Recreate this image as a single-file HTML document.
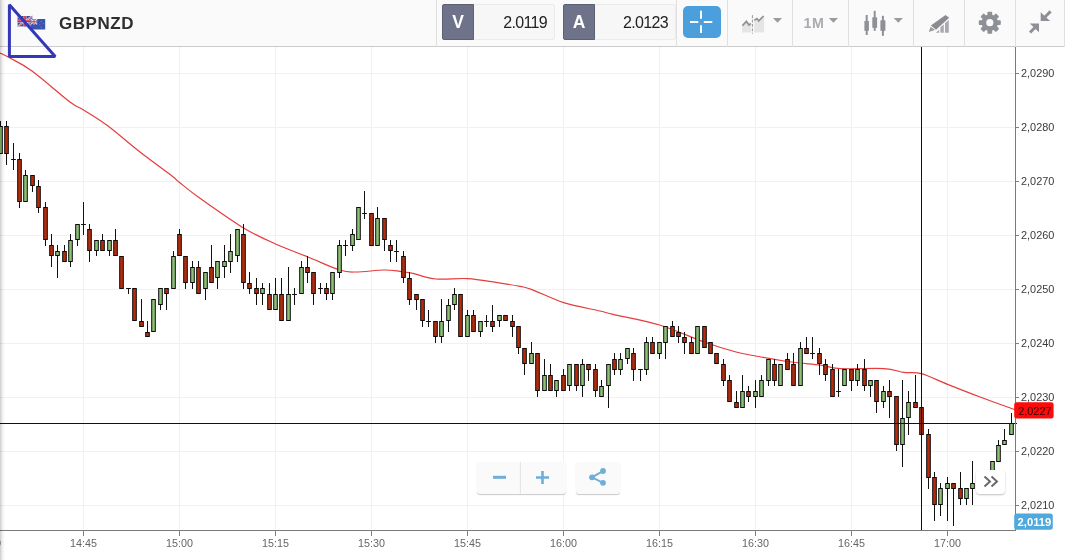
<!DOCTYPE html>
<html><head><meta charset="utf-8"><title>GBPNZD</title>
<style>
html,body{margin:0;padding:0;}
body{width:1065px;height:560px;overflow:hidden;background:#fff;position:relative;font-family:"Liberation Sans",sans-serif;}
#hdr{position:absolute;left:0;top:0;width:1065px;height:46px;background:#fafafa;border-bottom:1px solid #cbcbcb;}
.sep{position:absolute;top:0;width:1px;height:47px;background:#e0e0e0;}
#sym{position:absolute;left:59px;top:12.5px;font-size:17px;font-weight:bold;color:#2e2e2e;line-height:22px;letter-spacing:0.55px;}
.pb{position:absolute;top:4px;height:36px;box-sizing:border-box;}
.pl{background:#6e7389;border:1px solid #5d6175;border-radius:2px 0 0 2px;width:32px;color:#fff;font-weight:bold;font-size:17.5px;text-align:center;line-height:35px;}
.pv{background:#f7f7f7;border:1px solid #ebebeb;border-left:none;border-radius:0 3px 3px 0;width:81px;color:#222;font-size:16px;letter-spacing:-0.65px;text-align:right;line-height:35px;padding-right:7px;}
#cross{position:absolute;left:683px;top:6px;width:38px;height:32px;border-radius:5px;background:#4a9fdc;}
.t1m{position:absolute;left:803.5px;top:13px;font-size:14.3px;letter-spacing:0.6px;font-weight:bold;color:#a9abb0;line-height:20px;}
svg{position:absolute;left:0;top:0;}
.yl{font-family:"Liberation Sans",sans-serif;font-size:10.9px;fill:#3a3a3a;}
.xl{font-family:"Liberation Sans",sans-serif;font-size:10.75px;fill:#666;}
.btn{position:absolute;top:462px;height:32px;background:#fafafa;box-shadow:0 1px 1px rgba(0,0,0,0.22);border-radius:3px;}
#more{position:absolute;left:975.5px;top:470px;width:29.5px;height:24px;background:#fff;border-radius:4px;box-shadow:0 1px 2px rgba(0,0,0,0.25);}
#lshade{position:absolute;left:0;top:0;width:5px;height:560px;background:linear-gradient(to right,rgba(0,0,0,0.2),rgba(0,0,0,0.06) 50%,rgba(0,0,0,0));}
</style></head>
<body>
<svg width="1065" height="560" viewBox="0 0 1065 560">
<path d="M0 73.5H1015" stroke="#f1f1f1" stroke-width="1"/>
<path d="M0 127.5H1015" stroke="#f1f1f1" stroke-width="1"/>
<path d="M0 181.5H1015" stroke="#f1f1f1" stroke-width="1"/>
<path d="M0 235.5H1015" stroke="#f1f1f1" stroke-width="1"/>
<path d="M0 289.5H1015" stroke="#f1f1f1" stroke-width="1"/>
<path d="M0 343.5H1015" stroke="#f1f1f1" stroke-width="1"/>
<path d="M0 397.5H1015" stroke="#f1f1f1" stroke-width="1"/>
<path d="M0 451.5H1015" stroke="#f1f1f1" stroke-width="1"/>
<path d="M0 505.5H1015" stroke="#f1f1f1" stroke-width="1"/>
<path d="M83.5 47V530" stroke="#f1f1f1" stroke-width="1"/>
<path d="M179.5 47V530" stroke="#f1f1f1" stroke-width="1"/>
<path d="M275.5 47V530" stroke="#f1f1f1" stroke-width="1"/>
<path d="M371.5 47V530" stroke="#f1f1f1" stroke-width="1"/>
<path d="M467.5 47V530" stroke="#f1f1f1" stroke-width="1"/>
<path d="M563.5 47V530" stroke="#f1f1f1" stroke-width="1"/>
<path d="M659.5 47V530" stroke="#f1f1f1" stroke-width="1"/>
<path d="M755.5 47V530" stroke="#f1f1f1" stroke-width="1"/>
<path d="M851.5 47V530" stroke="#f1f1f1" stroke-width="1"/>
<path d="M947.5 47V530" stroke="#f1f1f1" stroke-width="1"/>
<path d="M0.0 53.0C1.7 53.8 4.7 55.0 10.0 58.0C15.3 61.0 22.0 63.7 32.0 71.0C42.0 78.3 61.4 95.5 70.0 102.0C78.6 108.5 77.3 106.0 83.6 110.0C89.9 114.0 98.6 119.0 108.0 126.0C117.4 133.0 129.3 143.7 140.0 152.0C150.7 160.3 165.4 170.9 172.0 176.0C178.6 181.1 174.6 178.6 179.3 182.3C184.0 186.0 189.3 190.7 200.0 198.3C210.7 205.9 231.0 220.4 243.6 228.0C256.2 235.6 264.9 239.2 275.6 244.0C286.3 248.8 297.3 252.7 308.0 257.0C318.7 261.3 331.6 267.5 339.6 270.0C347.6 272.5 348.6 272.0 356.0 272.0C363.4 272.0 376.7 270.1 384.0 270.0C391.3 269.9 395.2 270.8 400.0 271.4C404.8 272.0 407.0 272.1 413.0 273.4C419.0 274.7 426.9 278.1 436.0 279.0C445.1 279.9 457.6 278.0 467.6 278.6C477.6 279.2 487.3 281.1 496.0 282.4C504.7 283.7 514.0 285.2 520.0 286.4C526.0 287.6 524.7 286.9 532.0 289.6C539.3 292.3 552.3 299.0 563.6 302.6C574.9 306.2 591.8 309.0 600.0 311.0C608.2 313.0 603.1 312.1 613.0 314.4C622.9 316.7 644.4 320.4 659.6 325.0C674.8 329.6 691.3 337.5 704.0 342.0C716.7 346.5 727.4 349.7 736.0 352.0C744.6 354.3 747.6 354.5 755.6 356.0C763.6 357.5 776.6 359.8 784.0 361.0C791.4 362.2 794.0 362.3 800.0 363.0C806.0 363.7 813.3 364.1 820.0 365.0C826.7 365.9 829.3 368.0 840.0 368.6C850.7 369.2 873.3 368.0 884.0 368.6C894.7 369.2 897.8 371.6 904.0 372.4C910.2 373.2 914.1 371.6 921.4 373.6C928.7 375.6 937.8 380.5 947.6 384.4C957.4 388.3 969.1 392.9 980.0 397.0C990.9 401.1 1007.2 406.9 1013.0 409.0C1018.8 411.1 1014.7 409.2 1015.0 409.3" fill="none" stroke="#e53c3c" stroke-width="1.2" stroke-linejoin="round"/>
<path d="M0.5 121V154" stroke="#111" stroke-width="1" fill="none"/>
<rect x="-1.3" y="126.5" width="3.6" height="27" fill="#8cc176" stroke="#0a0a0a" stroke-width="1"/>
<path d="M6.5 121V165" stroke="#111" stroke-width="1" fill="none"/>
<rect x="4.7" y="126.5" width="3.6" height="27" fill="#b82c0c" stroke="#0a0a0a" stroke-width="1"/>
<path d="M13.5 143V170M11.1 159.5H15.9" stroke="#111" stroke-width="1" fill="none"/>
<path d="M19.5 153V208" stroke="#111" stroke-width="1" fill="none"/>
<rect x="17.7" y="159.5" width="3.6" height="42" fill="#b82c0c" stroke="#0a0a0a" stroke-width="1"/>
<path d="M25.5 170V202" stroke="#111" stroke-width="1" fill="none"/>
<rect x="23.7" y="175.5" width="3.6" height="26" fill="#8cc176" stroke="#0a0a0a" stroke-width="1"/>
<path d="M32.5 175V192" stroke="#111" stroke-width="1" fill="none"/>
<rect x="30.7" y="175.5" width="3.6" height="10" fill="#b82c0c" stroke="#0a0a0a" stroke-width="1"/>
<path d="M38.5 180V213" stroke="#111" stroke-width="1" fill="none"/>
<rect x="36.7" y="186.5" width="3.6" height="21" fill="#b82c0c" stroke="#0a0a0a" stroke-width="1"/>
<path d="M45.5 202V246" stroke="#111" stroke-width="1" fill="none"/>
<rect x="43.7" y="207.5" width="3.6" height="32" fill="#b82c0c" stroke="#0a0a0a" stroke-width="1"/>
<path d="M51.5 234V267" stroke="#111" stroke-width="1" fill="none"/>
<rect x="49.7" y="245.5" width="3.6" height="10" fill="#b82c0c" stroke="#0a0a0a" stroke-width="1"/>
<path d="M57.5 245V278" stroke="#111" stroke-width="1" fill="none"/>
<rect x="55.7" y="251.5" width="3.6" height="4" fill="#8cc176" stroke="#0a0a0a" stroke-width="1"/>
<path d="M64.5 245V262" stroke="#111" stroke-width="1" fill="none"/>
<rect x="62.7" y="251.5" width="3.6" height="10" fill="#b82c0c" stroke="#0a0a0a" stroke-width="1"/>
<path d="M70.5 234V267" stroke="#111" stroke-width="1" fill="none"/>
<rect x="68.7" y="240.5" width="3.6" height="21" fill="#8cc176" stroke="#0a0a0a" stroke-width="1"/>
<path d="M77.5 224V246" stroke="#111" stroke-width="1" fill="none"/>
<rect x="75.7" y="224.5" width="3.6" height="15" fill="#8cc176" stroke="#0a0a0a" stroke-width="1"/>
<path d="M83.5 202V235M81.1 224.5H85.9" stroke="#111" stroke-width="1" fill="none"/>
<path d="M89.5 224V262" stroke="#111" stroke-width="1" fill="none"/>
<rect x="87.7" y="229.5" width="3.6" height="21" fill="#b82c0c" stroke="#0a0a0a" stroke-width="1"/>
<path d="M96.5 240V256" stroke="#111" stroke-width="1" fill="none"/>
<rect x="94.7" y="240.5" width="3.6" height="10" fill="#8cc176" stroke="#0a0a0a" stroke-width="1"/>
<path d="M102.5 234V251" stroke="#111" stroke-width="1" fill="none"/>
<rect x="100.7" y="240.5" width="3.6" height="10" fill="#b82c0c" stroke="#0a0a0a" stroke-width="1"/>
<path d="M109.5 240V256" stroke="#111" stroke-width="1" fill="none"/>
<rect x="107.7" y="240.5" width="3.6" height="10" fill="#8cc176" stroke="#0a0a0a" stroke-width="1"/>
<path d="M115.5 229V256" stroke="#111" stroke-width="1" fill="none"/>
<rect x="113.7" y="240.5" width="3.6" height="15" fill="#b82c0c" stroke="#0a0a0a" stroke-width="1"/>
<rect x="119.7" y="256.5" width="3.6" height="32" fill="#b82c0c" stroke="#0a0a0a" stroke-width="1"/>
<path d="M128.5 288.0V294M126.1 288.5H130.9" stroke="#111" stroke-width="1" fill="none"/>
<rect x="132.7" y="288.5" width="3.6" height="32" fill="#b82c0c" stroke="#0a0a0a" stroke-width="1"/>
<path d="M141.5 299V327" stroke="#111" stroke-width="1" fill="none"/>
<rect x="139.7" y="321.5" width="3.6" height="5" fill="#b82c0c" stroke="#0a0a0a" stroke-width="1"/>
<path d="M147.5 321V337" stroke="#111" stroke-width="1" fill="none"/>
<rect x="145.7" y="332.5" width="3.6" height="4" fill="#b82c0c" stroke="#0a0a0a" stroke-width="1"/>
<rect x="151.7" y="299.5" width="3.6" height="32" fill="#8cc176" stroke="#0a0a0a" stroke-width="1"/>
<path d="M160.5 288V310" stroke="#111" stroke-width="1" fill="none"/>
<rect x="158.7" y="288.5" width="3.6" height="16" fill="#8cc176" stroke="#0a0a0a" stroke-width="1"/>
<path d="M166.5 288V310" stroke="#111" stroke-width="1" fill="none"/>
<rect x="164.7" y="288.5" width="3.6" height="5" fill="#b82c0c" stroke="#0a0a0a" stroke-width="1"/>
<path d="M173.5 251V289" stroke="#111" stroke-width="1" fill="none"/>
<rect x="171.7" y="256.5" width="3.6" height="32" fill="#8cc176" stroke="#0a0a0a" stroke-width="1"/>
<path d="M179.5 229V256" stroke="#111" stroke-width="1" fill="none"/>
<rect x="177.7" y="234.5" width="3.6" height="21" fill="#b82c0c" stroke="#0a0a0a" stroke-width="1"/>
<path d="M185.5 256V289" stroke="#111" stroke-width="1" fill="none"/>
<rect x="183.7" y="256.5" width="3.6" height="26" fill="#b82c0c" stroke="#0a0a0a" stroke-width="1"/>
<path d="M192.5 261V289" stroke="#111" stroke-width="1" fill="none"/>
<rect x="190.7" y="267.5" width="3.6" height="15" fill="#8cc176" stroke="#0a0a0a" stroke-width="1"/>
<path d="M198.5 261V294" stroke="#111" stroke-width="1" fill="none"/>
<rect x="196.7" y="267.5" width="3.6" height="26" fill="#b82c0c" stroke="#0a0a0a" stroke-width="1"/>
<path d="M205.5 272V300" stroke="#111" stroke-width="1" fill="none"/>
<rect x="203.7" y="272.5" width="3.6" height="16" fill="#8cc176" stroke="#0a0a0a" stroke-width="1"/>
<path d="M211.5 245V283" stroke="#111" stroke-width="1" fill="none"/>
<rect x="209.7" y="267.5" width="3.6" height="15" fill="#b82c0c" stroke="#0a0a0a" stroke-width="1"/>
<path d="M217.5 261V289" stroke="#111" stroke-width="1" fill="none"/>
<rect x="215.7" y="261.5" width="3.6" height="16" fill="#8cc176" stroke="#0a0a0a" stroke-width="1"/>
<path d="M224.5 245V278" stroke="#111" stroke-width="1" fill="none"/>
<rect x="222.7" y="261.5" width="3.6" height="5" fill="#8cc176" stroke="#0a0a0a" stroke-width="1"/>
<path d="M230.5 234V273" stroke="#111" stroke-width="1" fill="none"/>
<rect x="228.7" y="251.5" width="3.6" height="10" fill="#8cc176" stroke="#0a0a0a" stroke-width="1"/>
<path d="M237.5 229V262" stroke="#111" stroke-width="1" fill="none"/>
<rect x="235.7" y="229.5" width="3.6" height="26" fill="#8cc176" stroke="#0a0a0a" stroke-width="1"/>
<path d="M243.5 224V289" stroke="#111" stroke-width="1" fill="none"/>
<rect x="241.7" y="234.5" width="3.6" height="48" fill="#b82c0c" stroke="#0a0a0a" stroke-width="1"/>
<path d="M249.5 272V294" stroke="#111" stroke-width="1" fill="none"/>
<rect x="247.7" y="283.5" width="3.6" height="5" fill="#b82c0c" stroke="#0a0a0a" stroke-width="1"/>
<path d="M256.5 278V305" stroke="#111" stroke-width="1" fill="none"/>
<rect x="254.7" y="288.5" width="3.6" height="5" fill="#b82c0c" stroke="#0a0a0a" stroke-width="1"/>
<path d="M262.5 283V305" stroke="#111" stroke-width="1" fill="none"/>
<rect x="260.7" y="288.5" width="3.6" height="5" fill="#8cc176" stroke="#0a0a0a" stroke-width="1"/>
<path d="M269.5 283V310" stroke="#111" stroke-width="1" fill="none"/>
<rect x="267.7" y="294.5" width="3.6" height="15" fill="#b82c0c" stroke="#0a0a0a" stroke-width="1"/>
<path d="M275.5 278V310" stroke="#111" stroke-width="1" fill="none"/>
<rect x="273.7" y="294.5" width="3.6" height="15" fill="#8cc176" stroke="#0a0a0a" stroke-width="1"/>
<path d="M281.5 278V321" stroke="#111" stroke-width="1" fill="none"/>
<rect x="279.7" y="294.5" width="3.6" height="26" fill="#b82c0c" stroke="#0a0a0a" stroke-width="1"/>
<path d="M288.5 267V321" stroke="#111" stroke-width="1" fill="none"/>
<rect x="286.7" y="294.5" width="3.6" height="26" fill="#8cc176" stroke="#0a0a0a" stroke-width="1"/>
<path d="M294.5 288V305M292.1 294.5H296.9" stroke="#111" stroke-width="1" fill="none"/>
<path d="M301.5 261V294" stroke="#111" stroke-width="1" fill="none"/>
<rect x="299.7" y="267.5" width="3.6" height="26" fill="#8cc176" stroke="#0a0a0a" stroke-width="1"/>
<path d="M307.5 256V283" stroke="#111" stroke-width="1" fill="none"/>
<rect x="305.7" y="267.5" width="3.6" height="5" fill="#b82c0c" stroke="#0a0a0a" stroke-width="1"/>
<path d="M313.5 272V305" stroke="#111" stroke-width="1" fill="none"/>
<rect x="311.7" y="272.5" width="3.6" height="21" fill="#b82c0c" stroke="#0a0a0a" stroke-width="1"/>
<path d="M320.5 283V294M318.1 288.5H322.9" stroke="#111" stroke-width="1" fill="none"/>
<path d="M326.5 283V300" stroke="#111" stroke-width="1" fill="none"/>
<rect x="324.7" y="288.5" width="3.6" height="5" fill="#b82c0c" stroke="#0a0a0a" stroke-width="1"/>
<path d="M332.5 272V300" stroke="#111" stroke-width="1" fill="none"/>
<rect x="330.7" y="272.5" width="3.6" height="21" fill="#8cc176" stroke="#0a0a0a" stroke-width="1"/>
<path d="M339.5 240V278" stroke="#111" stroke-width="1" fill="none"/>
<rect x="337.7" y="245.5" width="3.6" height="27" fill="#8cc176" stroke="#0a0a0a" stroke-width="1"/>
<path d="M345.5 240V256M343.1 245.5H347.9" stroke="#111" stroke-width="1" fill="none"/>
<path d="M352.5 229V251" stroke="#111" stroke-width="1" fill="none"/>
<rect x="350.7" y="234.5" width="3.6" height="11" fill="#8cc176" stroke="#0a0a0a" stroke-width="1"/>
<rect x="356.7" y="207.5" width="3.6" height="32" fill="#8cc176" stroke="#0a0a0a" stroke-width="1"/>
<path d="M364.5 191V219M362.1 213.5H366.9" stroke="#111" stroke-width="1" fill="none"/>
<rect x="369.7" y="213.5" width="3.6" height="32" fill="#b82c0c" stroke="#0a0a0a" stroke-width="1"/>
<path d="M377.5 207V246" stroke="#111" stroke-width="1" fill="none"/>
<rect x="375.7" y="218.5" width="3.6" height="27" fill="#8cc176" stroke="#0a0a0a" stroke-width="1"/>
<path d="M384.5 218V251" stroke="#111" stroke-width="1" fill="none"/>
<rect x="382.7" y="218.5" width="3.6" height="21" fill="#b82c0c" stroke="#0a0a0a" stroke-width="1"/>
<path d="M390.5 240V262" stroke="#111" stroke-width="1" fill="none"/>
<rect x="388.7" y="245.5" width="3.6" height="5" fill="#b82c0c" stroke="#0a0a0a" stroke-width="1"/>
<path d="M396.5 240V262M394.1 251.5H398.9" stroke="#111" stroke-width="1" fill="none"/>
<path d="M403.5 251V283" stroke="#111" stroke-width="1" fill="none"/>
<rect x="401.7" y="256.5" width="3.6" height="21" fill="#b82c0c" stroke="#0a0a0a" stroke-width="1"/>
<path d="M409.5 272V305" stroke="#111" stroke-width="1" fill="none"/>
<rect x="407.7" y="278.5" width="3.6" height="21" fill="#b82c0c" stroke="#0a0a0a" stroke-width="1"/>
<path d="M416.5 294V310" stroke="#111" stroke-width="1" fill="none"/>
<rect x="414.7" y="294.5" width="3.6" height="5" fill="#b82c0c" stroke="#0a0a0a" stroke-width="1"/>
<path d="M422.5 299V327" stroke="#111" stroke-width="1" fill="none"/>
<rect x="420.7" y="299.5" width="3.6" height="21" fill="#b82c0c" stroke="#0a0a0a" stroke-width="1"/>
<path d="M428.5 310V327M426.1 321.5H430.9" stroke="#111" stroke-width="1" fill="none"/>
<path d="M435.5 321V343" stroke="#111" stroke-width="1" fill="none"/>
<rect x="433.7" y="321.5" width="3.6" height="15" fill="#b82c0c" stroke="#0a0a0a" stroke-width="1"/>
<path d="M441.5 299V343" stroke="#111" stroke-width="1" fill="none"/>
<rect x="439.7" y="321.5" width="3.6" height="15" fill="#8cc176" stroke="#0a0a0a" stroke-width="1"/>
<path d="M448.5 299V332" stroke="#111" stroke-width="1" fill="none"/>
<rect x="446.7" y="305.5" width="3.6" height="15" fill="#8cc176" stroke="#0a0a0a" stroke-width="1"/>
<path d="M454.5 288V310" stroke="#111" stroke-width="1" fill="none"/>
<rect x="452.7" y="294.5" width="3.6" height="10" fill="#8cc176" stroke="#0a0a0a" stroke-width="1"/>
<rect x="458.7" y="294.5" width="3.6" height="42" fill="#b82c0c" stroke="#0a0a0a" stroke-width="1"/>
<path d="M467.5 310V337" stroke="#111" stroke-width="1" fill="none"/>
<rect x="465.7" y="315.5" width="3.6" height="21" fill="#8cc176" stroke="#0a0a0a" stroke-width="1"/>
<path d="M473.5 310V332" stroke="#111" stroke-width="1" fill="none"/>
<rect x="471.7" y="315.5" width="3.6" height="16" fill="#b82c0c" stroke="#0a0a0a" stroke-width="1"/>
<path d="M480.5 321V337" stroke="#111" stroke-width="1" fill="none"/>
<rect x="478.7" y="321.5" width="3.6" height="10" fill="#8cc176" stroke="#0a0a0a" stroke-width="1"/>
<path d="M486.5 315V327M484.1 321.5H488.9" stroke="#111" stroke-width="1" fill="none"/>
<path d="M492.5 305V332" stroke="#111" stroke-width="1" fill="none"/>
<rect x="490.7" y="321.5" width="3.6" height="5" fill="#b82c0c" stroke="#0a0a0a" stroke-width="1"/>
<path d="M499.5 315V327" stroke="#111" stroke-width="1" fill="none"/>
<rect x="497.7" y="315.5" width="3.6" height="5" fill="#8cc176" stroke="#0a0a0a" stroke-width="1"/>
<rect x="503.7" y="315.5" width="3.6" height="5" fill="#b82c0c" stroke="#0a0a0a" stroke-width="1"/>
<path d="M512.5 315V337" stroke="#111" stroke-width="1" fill="none"/>
<rect x="510.7" y="321.5" width="3.6" height="5" fill="#b82c0c" stroke="#0a0a0a" stroke-width="1"/>
<path d="M518.5 326V354" stroke="#111" stroke-width="1" fill="none"/>
<rect x="516.7" y="326.5" width="3.6" height="21" fill="#b82c0c" stroke="#0a0a0a" stroke-width="1"/>
<path d="M524.5 348V375" stroke="#111" stroke-width="1" fill="none"/>
<rect x="522.7" y="348.5" width="3.6" height="15" fill="#b82c0c" stroke="#0a0a0a" stroke-width="1"/>
<path d="M531.5 342V364" stroke="#111" stroke-width="1" fill="none"/>
<rect x="529.7" y="353.5" width="3.6" height="10" fill="#8cc176" stroke="#0a0a0a" stroke-width="1"/>
<path d="M537.5 353V397" stroke="#111" stroke-width="1" fill="none"/>
<rect x="535.7" y="353.5" width="3.6" height="37" fill="#b82c0c" stroke="#0a0a0a" stroke-width="1"/>
<path d="M544.5 359V391" stroke="#111" stroke-width="1" fill="none"/>
<rect x="542.7" y="375.5" width="3.6" height="15" fill="#8cc176" stroke="#0a0a0a" stroke-width="1"/>
<path d="M550.5 364V391" stroke="#111" stroke-width="1" fill="none"/>
<rect x="548.7" y="375.5" width="3.6" height="15" fill="#b82c0c" stroke="#0a0a0a" stroke-width="1"/>
<path d="M556.5 380V397" stroke="#111" stroke-width="1" fill="none"/>
<rect x="554.7" y="380.5" width="3.6" height="10" fill="#8cc176" stroke="#0a0a0a" stroke-width="1"/>
<path d="M563.5 369V391" stroke="#111" stroke-width="1" fill="none"/>
<rect x="561.7" y="375.5" width="3.6" height="15" fill="#b82c0c" stroke="#0a0a0a" stroke-width="1"/>
<path d="M569.5 364V391" stroke="#111" stroke-width="1" fill="none"/>
<rect x="567.7" y="364.5" width="3.6" height="21" fill="#8cc176" stroke="#0a0a0a" stroke-width="1"/>
<path d="M576.5 364V391" stroke="#111" stroke-width="1" fill="none"/>
<rect x="574.7" y="364.5" width="3.6" height="21" fill="#b82c0c" stroke="#0a0a0a" stroke-width="1"/>
<path d="M582.5 359V397" stroke="#111" stroke-width="1" fill="none"/>
<rect x="580.7" y="364.5" width="3.6" height="21" fill="#8cc176" stroke="#0a0a0a" stroke-width="1"/>
<path d="M588.5 364V381" stroke="#111" stroke-width="1" fill="none"/>
<rect x="586.7" y="364.5" width="3.6" height="5" fill="#b82c0c" stroke="#0a0a0a" stroke-width="1"/>
<path d="M595.5 364V397" stroke="#111" stroke-width="1" fill="none"/>
<rect x="593.7" y="369.5" width="3.6" height="21" fill="#b82c0c" stroke="#0a0a0a" stroke-width="1"/>
<path d="M601.5 380V397" stroke="#111" stroke-width="1" fill="none"/>
<rect x="599.7" y="386.5" width="3.6" height="10" fill="#8cc176" stroke="#0a0a0a" stroke-width="1"/>
<path d="M608.5 364V408" stroke="#111" stroke-width="1" fill="none"/>
<rect x="606.7" y="364.5" width="3.6" height="21" fill="#8cc176" stroke="#0a0a0a" stroke-width="1"/>
<path d="M614.5 353V375" stroke="#111" stroke-width="1" fill="none"/>
<rect x="612.7" y="359.5" width="3.6" height="10" fill="#b82c0c" stroke="#0a0a0a" stroke-width="1"/>
<path d="M620.5 353V375" stroke="#111" stroke-width="1" fill="none"/>
<rect x="618.7" y="359.5" width="3.6" height="10" fill="#8cc176" stroke="#0a0a0a" stroke-width="1"/>
<path d="M627.5 348V364" stroke="#111" stroke-width="1" fill="none"/>
<rect x="625.7" y="348.5" width="3.6" height="10" fill="#8cc176" stroke="#0a0a0a" stroke-width="1"/>
<path d="M633.5 348V381" stroke="#111" stroke-width="1" fill="none"/>
<rect x="631.7" y="353.5" width="3.6" height="16" fill="#b82c0c" stroke="#0a0a0a" stroke-width="1"/>
<path d="M640.5 369.0V381M638.1 369.5H642.9" stroke="#111" stroke-width="1" fill="none"/>
<path d="M646.5 337V375" stroke="#111" stroke-width="1" fill="none"/>
<rect x="644.7" y="342.5" width="3.6" height="27" fill="#8cc176" stroke="#0a0a0a" stroke-width="1"/>
<path d="M652.5 337V354" stroke="#111" stroke-width="1" fill="none"/>
<rect x="650.7" y="342.5" width="3.6" height="11" fill="#b82c0c" stroke="#0a0a0a" stroke-width="1"/>
<path d="M659.5 342V359" stroke="#111" stroke-width="1" fill="none"/>
<rect x="657.7" y="342.5" width="3.6" height="11" fill="#8cc176" stroke="#0a0a0a" stroke-width="1"/>
<path d="M665.5 326V359" stroke="#111" stroke-width="1" fill="none"/>
<rect x="663.7" y="326.5" width="3.6" height="16" fill="#8cc176" stroke="#0a0a0a" stroke-width="1"/>
<path d="M672.5 321V337" stroke="#111" stroke-width="1" fill="none"/>
<rect x="670.7" y="326.5" width="3.6" height="10" fill="#b82c0c" stroke="#0a0a0a" stroke-width="1"/>
<path d="M678.5 326V343" stroke="#111" stroke-width="1" fill="none"/>
<rect x="676.7" y="332.5" width="3.6" height="4" fill="#b82c0c" stroke="#0a0a0a" stroke-width="1"/>
<path d="M684.5 332V354" stroke="#111" stroke-width="1" fill="none"/>
<rect x="682.7" y="337.5" width="3.6" height="5" fill="#b82c0c" stroke="#0a0a0a" stroke-width="1"/>
<path d="M691.5 337V354" stroke="#111" stroke-width="1" fill="none"/>
<rect x="689.7" y="342.5" width="3.6" height="11" fill="#b82c0c" stroke="#0a0a0a" stroke-width="1"/>
<rect x="695.7" y="326.5" width="3.6" height="27" fill="#8cc176" stroke="#0a0a0a" stroke-width="1"/>
<rect x="702.7" y="326.5" width="3.6" height="21" fill="#b82c0c" stroke="#0a0a0a" stroke-width="1"/>
<rect x="708.7" y="342.5" width="3.6" height="11" fill="#b82c0c" stroke="#0a0a0a" stroke-width="1"/>
<rect x="714.7" y="353.5" width="3.6" height="10" fill="#b82c0c" stroke="#0a0a0a" stroke-width="1"/>
<path d="M723.5 359V386" stroke="#111" stroke-width="1" fill="none"/>
<rect x="721.7" y="364.5" width="3.6" height="16" fill="#b82c0c" stroke="#0a0a0a" stroke-width="1"/>
<path d="M729.5 375V402" stroke="#111" stroke-width="1" fill="none"/>
<rect x="727.7" y="380.5" width="3.6" height="21" fill="#b82c0c" stroke="#0a0a0a" stroke-width="1"/>
<path d="M736.5 391V408" stroke="#111" stroke-width="1" fill="none"/>
<rect x="734.7" y="402.5" width="3.6" height="5" fill="#b82c0c" stroke="#0a0a0a" stroke-width="1"/>
<path d="M742.5 375V408" stroke="#111" stroke-width="1" fill="none"/>
<rect x="740.7" y="391.5" width="3.6" height="16" fill="#8cc176" stroke="#0a0a0a" stroke-width="1"/>
<path d="M748.5 386V402" stroke="#111" stroke-width="1" fill="none"/>
<rect x="746.7" y="391.5" width="3.6" height="5" fill="#b82c0c" stroke="#0a0a0a" stroke-width="1"/>
<path d="M755.5 380V408" stroke="#111" stroke-width="1" fill="none"/>
<rect x="753.7" y="391.5" width="3.6" height="5" fill="#8cc176" stroke="#0a0a0a" stroke-width="1"/>
<path d="M761.5 375V397" stroke="#111" stroke-width="1" fill="none"/>
<rect x="759.7" y="380.5" width="3.6" height="16" fill="#8cc176" stroke="#0a0a0a" stroke-width="1"/>
<path d="M768.5 359V386" stroke="#111" stroke-width="1" fill="none"/>
<rect x="766.7" y="359.5" width="3.6" height="21" fill="#8cc176" stroke="#0a0a0a" stroke-width="1"/>
<path d="M774.5 359V386" stroke="#111" stroke-width="1" fill="none"/>
<rect x="772.7" y="364.5" width="3.6" height="16" fill="#b82c0c" stroke="#0a0a0a" stroke-width="1"/>
<rect x="778.7" y="364.5" width="3.6" height="21" fill="#8cc176" stroke="#0a0a0a" stroke-width="1"/>
<path d="M787.5 353V370" stroke="#111" stroke-width="1" fill="none"/>
<rect x="785.7" y="359.5" width="3.6" height="10" fill="#b82c0c" stroke="#0a0a0a" stroke-width="1"/>
<path d="M793.5 353V386" stroke="#111" stroke-width="1" fill="none"/>
<rect x="791.7" y="364.5" width="3.6" height="21" fill="#b82c0c" stroke="#0a0a0a" stroke-width="1"/>
<path d="M800.5 342V386" stroke="#111" stroke-width="1" fill="none"/>
<rect x="798.7" y="348.5" width="3.6" height="37" fill="#8cc176" stroke="#0a0a0a" stroke-width="1"/>
<path d="M806.5 337V354" stroke="#111" stroke-width="1" fill="none"/>
<rect x="804.7" y="348.5" width="3.6" height="5" fill="#b82c0c" stroke="#0a0a0a" stroke-width="1"/>
<path d="M812.5 337V359M810.1 353.5H814.9" stroke="#111" stroke-width="1" fill="none"/>
<path d="M819.5 348V375" stroke="#111" stroke-width="1" fill="none"/>
<rect x="817.7" y="353.5" width="3.6" height="10" fill="#b82c0c" stroke="#0a0a0a" stroke-width="1"/>
<path d="M825.5 359V381" stroke="#111" stroke-width="1" fill="none"/>
<rect x="823.7" y="364.5" width="3.6" height="10" fill="#b82c0c" stroke="#0a0a0a" stroke-width="1"/>
<path d="M832.5 364V397" stroke="#111" stroke-width="1" fill="none"/>
<rect x="830.7" y="369.5" width="3.6" height="27" fill="#b82c0c" stroke="#0a0a0a" stroke-width="1"/>
<path d="M838.5 369V397M836.1 391.5H840.9" stroke="#111" stroke-width="1" fill="none"/>
<rect x="842.7" y="369.5" width="3.6" height="16" fill="#8cc176" stroke="#0a0a0a" stroke-width="1"/>
<path d="M851.5 369V391" stroke="#111" stroke-width="1" fill="none"/>
<rect x="849.7" y="369.5" width="3.6" height="11" fill="#b82c0c" stroke="#0a0a0a" stroke-width="1"/>
<path d="M857.5 364V386" stroke="#111" stroke-width="1" fill="none"/>
<rect x="855.7" y="369.5" width="3.6" height="11" fill="#8cc176" stroke="#0a0a0a" stroke-width="1"/>
<path d="M864.5 359V391" stroke="#111" stroke-width="1" fill="none"/>
<rect x="862.7" y="369.5" width="3.6" height="16" fill="#b82c0c" stroke="#0a0a0a" stroke-width="1"/>
<path d="M870.5 380V397" stroke="#111" stroke-width="1" fill="none"/>
<rect x="868.7" y="380.5" width="3.6" height="5" fill="#8cc176" stroke="#0a0a0a" stroke-width="1"/>
<path d="M876.5 380V413" stroke="#111" stroke-width="1" fill="none"/>
<rect x="874.7" y="380.5" width="3.6" height="21" fill="#b82c0c" stroke="#0a0a0a" stroke-width="1"/>
<path d="M883.5 386V408" stroke="#111" stroke-width="1" fill="none"/>
<rect x="881.7" y="391.5" width="3.6" height="10" fill="#8cc176" stroke="#0a0a0a" stroke-width="1"/>
<path d="M889.5 380V418" stroke="#111" stroke-width="1" fill="none"/>
<rect x="887.7" y="391.5" width="3.6" height="5" fill="#b82c0c" stroke="#0a0a0a" stroke-width="1"/>
<path d="M896.5 396V451" stroke="#111" stroke-width="1" fill="none"/>
<rect x="894.7" y="396.5" width="3.6" height="48" fill="#b82c0c" stroke="#0a0a0a" stroke-width="1"/>
<path d="M902.5 380V467" stroke="#111" stroke-width="1" fill="none"/>
<rect x="900.7" y="418.5" width="3.6" height="26" fill="#8cc176" stroke="#0a0a0a" stroke-width="1"/>
<path d="M908.5 391V435" stroke="#111" stroke-width="1" fill="none"/>
<rect x="906.7" y="402.5" width="3.6" height="15" fill="#8cc176" stroke="#0a0a0a" stroke-width="1"/>
<path d="M915.5 375V408" stroke="#111" stroke-width="1" fill="none"/>
<rect x="913.7" y="402.5" width="3.6" height="5" fill="#b82c0c" stroke="#0a0a0a" stroke-width="1"/>
<rect x="919.7" y="407.5" width="3.6" height="27" fill="#b82c0c" stroke="#0a0a0a" stroke-width="1"/>
<path d="M928.5 429V489" stroke="#111" stroke-width="1" fill="none"/>
<rect x="926.7" y="434.5" width="3.6" height="43" fill="#b82c0c" stroke="#0a0a0a" stroke-width="1"/>
<path d="M934.5 472V521" stroke="#111" stroke-width="1" fill="none"/>
<rect x="932.7" y="477.5" width="3.6" height="27" fill="#b82c0c" stroke="#0a0a0a" stroke-width="1"/>
<path d="M940.5 483V516" stroke="#111" stroke-width="1" fill="none"/>
<rect x="938.7" y="488.5" width="3.6" height="16" fill="#8cc176" stroke="#0a0a0a" stroke-width="1"/>
<path d="M947.5 477V521" stroke="#111" stroke-width="1" fill="none"/>
<rect x="945.7" y="483.5" width="3.6" height="5" fill="#8cc176" stroke="#0a0a0a" stroke-width="1"/>
<path d="M953.5 483V526" stroke="#111" stroke-width="1" fill="none"/>
<rect x="951.7" y="483.5" width="3.6" height="5" fill="#b82c0c" stroke="#0a0a0a" stroke-width="1"/>
<path d="M960.5 472V505" stroke="#111" stroke-width="1" fill="none"/>
<rect x="958.7" y="488.5" width="3.6" height="10" fill="#b82c0c" stroke="#0a0a0a" stroke-width="1"/>
<path d="M966.5 488V505" stroke="#111" stroke-width="1" fill="none"/>
<rect x="964.7" y="488.5" width="3.6" height="10" fill="#8cc176" stroke="#0a0a0a" stroke-width="1"/>
<path d="M972.5 461V505" stroke="#111" stroke-width="1" fill="none"/>
<rect x="970.7" y="483.5" width="3.6" height="5" fill="#8cc176" stroke="#0a0a0a" stroke-width="1"/>
<rect x="977.7" y="477.5" width="3.6" height="5" fill="#8cc176" stroke="#0a0a0a" stroke-width="1"/>
<path d="M985.5 477V489" stroke="#111" stroke-width="1" fill="none"/>
<rect x="983.7" y="477.5" width="3.6" height="5" fill="#b82c0c" stroke="#0a0a0a" stroke-width="1"/>
<rect x="990.7" y="461.5" width="3.6" height="21" fill="#8cc176" stroke="#0a0a0a" stroke-width="1"/>
<path d="M998.5 440V462" stroke="#111" stroke-width="1" fill="none"/>
<rect x="996.7" y="445.5" width="3.6" height="16" fill="#8cc176" stroke="#0a0a0a" stroke-width="1"/>
<path d="M1004.5 429V445" stroke="#111" stroke-width="1" fill="none"/>
<rect x="1002.7" y="440.5" width="3.6" height="4" fill="#8cc176" stroke="#0a0a0a" stroke-width="1"/>
<path d="M1011.5 413V435" stroke="#111" stroke-width="1" fill="none"/>
<rect x="1009.7" y="423.5" width="3.6" height="11" fill="#8cc176" stroke="#0a0a0a" stroke-width="1"/>
<path d="M921.5 47V530" stroke="#111" stroke-width="1"/>
<path d="M0 423.5H1017" stroke="#111" stroke-width="1"/>
<path d="M0 530.5H1016" stroke="#7a7a7a" stroke-width="1"/>
<path d="M1015.5 47V531" stroke="#7a7a7a" stroke-width="1"/>
<path d="M1015 73.5H1019" stroke="#808080" stroke-width="1"/>
<text x="1021" y="77.1" class="yl">2,0290</text>
<path d="M1015 127.5H1019" stroke="#808080" stroke-width="1"/>
<text x="1021" y="131.1" class="yl">2,0280</text>
<path d="M1015 181.5H1019" stroke="#808080" stroke-width="1"/>
<text x="1021" y="185.1" class="yl">2,0270</text>
<path d="M1015 235.5H1019" stroke="#808080" stroke-width="1"/>
<text x="1021" y="239.1" class="yl">2,0260</text>
<path d="M1015 289.5H1019" stroke="#808080" stroke-width="1"/>
<text x="1021" y="293.1" class="yl">2,0250</text>
<path d="M1015 343.5H1019" stroke="#808080" stroke-width="1"/>
<text x="1021" y="347.1" class="yl">2,0240</text>
<path d="M1015 397.5H1019" stroke="#808080" stroke-width="1"/>
<text x="1021" y="401.1" class="yl">2,0230</text>
<path d="M1015 451.5H1019" stroke="#808080" stroke-width="1"/>
<text x="1021" y="455.1" class="yl">2,0220</text>
<path d="M1015 505.5H1019" stroke="#808080" stroke-width="1"/>
<text x="1021" y="509.1" class="yl">2,0210</text>
<text x="-12.5" y="547.3" text-anchor="middle" class="xl">14:30</text>
<path d="M83.5 530V536" stroke="#808080" stroke-width="1"/>
<text x="83.5" y="547.3" text-anchor="middle" class="xl">14:45</text>
<path d="M179.5 530V536" stroke="#808080" stroke-width="1"/>
<text x="179.5" y="547.3" text-anchor="middle" class="xl">15:00</text>
<path d="M275.5 530V536" stroke="#808080" stroke-width="1"/>
<text x="275.5" y="547.3" text-anchor="middle" class="xl">15:15</text>
<path d="M371.5 530V536" stroke="#808080" stroke-width="1"/>
<text x="371.5" y="547.3" text-anchor="middle" class="xl">15:30</text>
<path d="M467.5 530V536" stroke="#808080" stroke-width="1"/>
<text x="467.5" y="547.3" text-anchor="middle" class="xl">15:45</text>
<path d="M563.5 530V536" stroke="#808080" stroke-width="1"/>
<text x="563.5" y="547.3" text-anchor="middle" class="xl">16:00</text>
<path d="M659.5 530V536" stroke="#808080" stroke-width="1"/>
<text x="659.5" y="547.3" text-anchor="middle" class="xl">16:15</text>
<path d="M755.5 530V536" stroke="#808080" stroke-width="1"/>
<text x="755.5" y="547.3" text-anchor="middle" class="xl">16:30</text>
<path d="M851.5 530V536" stroke="#808080" stroke-width="1"/>
<text x="851.5" y="547.3" text-anchor="middle" class="xl">16:45</text>
<path d="M947.5 530V536" stroke="#808080" stroke-width="1"/>
<text x="947.5" y="547.3" text-anchor="middle" class="xl">17:00</text>
<rect x="1014.2" y="402.3" width="39.4" height="16.3" rx="2.5" fill="#ff0a0a"/>
<text x="1018.2" y="415" style="font-family:'Liberation Sans',sans-serif;font-size:10.9px;fill:#3a0000;">2,0227</text>
<rect x="1014.2" y="513.4" width="38.6" height="16.3" rx="2.5" fill="#4fa9dd"/>
<text x="1017.6" y="526.1" style="font-family:'Liberation Sans',sans-serif;font-size:11.2px;font-weight:bold;fill:#fff;">2,0119</text>
</svg>
<div id="hdr">
 <div class="sep" style="left:436px"></div>
 <div class="sep" style="left:676px"></div>
 <div class="sep" style="left:727px"></div>
 <div class="sep" style="left:792px"></div>
 <div class="sep" style="left:848px"></div>
 <div class="sep" style="left:913px"></div>
 <div class="sep" style="left:964px"></div>
 <div class="sep" style="left:1015px"></div>
 <div class="sep" style="left:1064px"></div>
 <div id="sym">GBPNZD</div>
 <div class="pb pl" style="left:442px">V</div><div class="pb pv" style="left:474px">2.0119</div>
 <div class="pb pl" style="left:563px">A</div><div class="pb pv" style="left:595px">2.0123</div>
 <div id="cross"></div>
 <div class="t1m">1M</div>
</div>
<svg width="1065" height="60" viewBox="0 0 1065 60">
 <!-- flags -->
 <g>
  <rect x="17.6" y="16" width="14.7" height="10.4" fill="#3f4c9e"/>
  <path d="M17.6 16L32.3 26.4M32.3 16L17.6 26.4" stroke="#e8dfe8" stroke-width="1.6"/>
  <path d="M17.6 16L32.3 26.4M32.3 16L17.6 26.4" stroke="#d63a4a" stroke-width="0.7"/>
  <path d="M25 16V26.4M17.6 21.2H32.3" stroke="#ece4ec" stroke-width="2.8"/>
  <path d="M25 16V26.4M17.6 21.2H32.3" stroke="#d4303f" stroke-width="1.7"/>
  <rect x="30.7" y="19" width="14.5" height="10.5" fill="#3654b0"/>
  <path d="M30.7 19L37.2 24.4M37.2 19L30.7 24.4" stroke="#e6e0ee" stroke-width="1.1"/>
  <path d="M34 19V24.4M30.7 21.7H37.2" stroke="#ece4ec" stroke-width="1.7"/>
  <path d="M34 19V24.4M30.7 21.7H37.2" stroke="#d4303f" stroke-width="0.9"/>
  <circle cx="41.2" cy="21.4" r="0.7" fill="#d8506a"/><circle cx="43.2" cy="23.6" r="0.7" fill="#d8506a"/><circle cx="39.8" cy="24.6" r="0.7" fill="#d8506a"/><circle cx="41.3" cy="27.3" r="0.7" fill="#d8506a"/>
 </g>
 <!-- blue triangle drawing -->
 <path d="M9.4 4.8V56.4H55.2Z" fill="none" stroke="#3338b8" stroke-width="3" stroke-linejoin="bevel"/>
 <!-- crosshair icon -->
 <path d="M701 10.8V18.8M701 25.2V33M690 22H698.3M703.8 22H712.3" stroke="#fff" stroke-width="2" fill="none"/>
 <!-- compare icon -->
 <path d="M742.1 26L746.4 21.4L749 25.1L751 23.5V32.6H742.1Z" fill="#e5e5e5"/>
 <path d="M754.1 20.5L757 18.6L758.7 20.9L764.1 15.6V32.6H754.1Z" fill="#e5e5e5"/>
 <path d="M742.4 25.7L746.4 21.4L749 25.1L750.9 23.5" fill="none" stroke="#8e9096" stroke-width="1.7"/>
 <path d="M754.4 20.3L757 18.6L758.7 20.9L763.6 16" fill="none" stroke="#8e9096" stroke-width="1.7"/>
 <path d="M752.4 15.1V33.7" stroke="#999" stroke-width="1" stroke-dasharray="3 1.4"/>
 <path d="M773 18H782L777.5 22.8Z" fill="#999ba1"/>
 <path d="M828.8 18H838L833.4 22.8Z" fill="#999ba1"/>
 <path d="M893.7 18H903L898.3 22.8Z" fill="#999ba1"/>
 <!-- candle icon -->
 <g fill="#8e9096" stroke="none">
  <rect x="864.4" y="21" width="4.5" height="9.8"/><rect x="865.7" y="15" width="2" height="20"/>
  <rect x="872.3" y="17.3" width="4.8" height="10.5"/><rect x="873.7" y="10.8" width="2" height="20"/>
  <rect x="880.4" y="20.3" width="5" height="10.5"/><rect x="881.9" y="15.8" width="2" height="20"/>
 </g>
 <!-- pencil icon -->
 <g>
  <path d="M940.4 32.7V27.2L943.8 24.4V32.7Z M945 32.7V23.3L948.8 20.1V32.7Z M935.8 32.7L939.2 29.8V32.7Z" fill="#a9aaad"/>
  <path d="M930.9 25.6L945.5 14.9L949.2 17.7L936 29.7Z" fill="#8b8c91"/>
  <path d="M930.6 26.8L935 30L928.8 31.9Z" fill="#9a9b9f"/>
 </g>
 <!-- gear -->
 <g transform="translate(989.8,22.7)" fill="#8e9096">
  <circle r="8.2"/>
  <g id="teeth">
   <rect x="-2.4" y="-11" width="4.8" height="22" rx="1"/>
   <rect x="-2.4" y="-11" width="4.8" height="22" rx="1" transform="rotate(45)"/>
   <rect x="-2.4" y="-11" width="4.8" height="22" rx="1" transform="rotate(90)"/>
   <rect x="-2.4" y="-11" width="4.8" height="22" rx="1" transform="rotate(135)"/>
  </g>
  <circle r="3.6" fill="#fafafa"/>
 </g>
 <!-- collapse arrows -->
 <g fill="#8e9096" stroke="#8e9096">
  <path d="M1050.6 11.4L1044.5 17.5" stroke-width="2.9" fill="none"/>
  <path d="M1040.7 12.2V21.1H1050.1Z" stroke="none"/>
  <path d="M1030 32.6L1035.5 27" stroke-width="2.9" fill="none"/>
  <path d="M1029.8 23.4H1039V32.2Z" stroke="none"/>
 </g>
</svg>
<div class="btn" style="left:477px;width:88.5px;"></div>
<div class="btn" style="left:576px;width:43.5px;"></div>
<div id="more"></div>
<svg width="1065" height="560" viewBox="0 0 1065 560" style="pointer-events:none">
 <path d="M520.4 462V494" stroke="#e2e2e2" stroke-width="1"/>
 <path d="M493 477.3H506" stroke="#6eaed8" stroke-width="3"/>
 <path d="M536 477.5H549M542.5 471V484" stroke="#6eaed8" stroke-width="2.6"/>
 <path d="M603 471L592 477.3L603 482.8" fill="none" stroke="#6eaed8" stroke-width="2"/>
 <circle cx="592" cy="477.3" r="2.9" fill="#6eaed8"/><circle cx="603" cy="471" r="2.9" fill="#6eaed8"/><circle cx="603" cy="482.8" r="2.9" fill="#6eaed8"/>
 <path d="M984.5 476.5L990 481.5L984.5 486.5M991.5 476.5L997 481.5L991.5 486.5" fill="none" stroke="#666" stroke-width="1.9"/>
</svg>
<div id="lshade"></div>
</body></html>
